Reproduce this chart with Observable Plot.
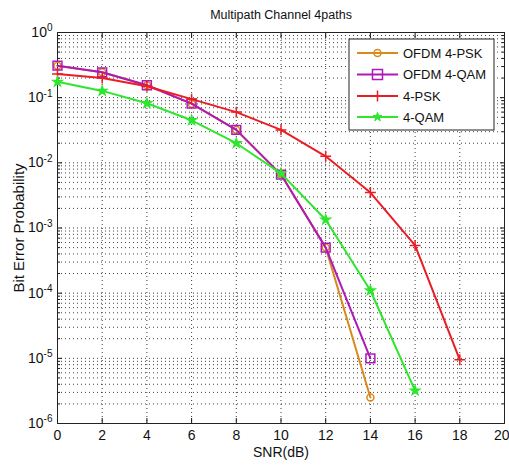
<!DOCTYPE html>
<html>
<head>
<meta charset="utf-8">
<script src="https://cdn.jsdelivr.net/npm/d3@7"></script>
<script src="https://cdn.jsdelivr.net/npm/@observablehq/plot@0.6"></script>
<style>
  html, body { margin: 0; padding: 0; background: #fff; }
  #chart { width: 509px; height: 465px; }
</style>
</head>
<body>
<div id="chart"></div>
<script>
const title = "Multipath Channel 4paths";
const xLabel = "SNR(dB)";
const yLabel = "Bit Error Probability";

const snr = [0, 2, 4, 6, 8, 10, 12, 14, 16, 18];
const ofdmPsk = [0.31, 0.245, 0.155, 0.081, 0.032, 0.0066, 0.0005, 0.0000025];
const ofdmQam = [0.31, 0.245, 0.155, 0.081, 0.032, 0.0066, 0.0005, 0.00001];
const psk = [0.23, 0.2, 0.15, 0.095, 0.06, 0.032, 0.0126, 0.0035, 0.00054, 0.0000095];
const qam = [0.175, 0.127, 0.082, 0.045, 0.02, 0.0069, 0.00134, 0.00011, 0.0000032];

const seriesNames = ["OFDM 4-PSK", "OFDM 4-QAM", "4-PSK", "4-QAM"];
const seriesColors = ["#d88a1c", "#b018b8", "#ea1c24", "#2ee62e"];
const seriesSymbols = ["circle", "square", "plus", "star"];
const seriesValues = [ofdmPsk, ofdmQam, psk, qam];

const xTicks = [0, 2, 4, 6, 8, 10, 12, 14, 16, 18, 20];
const yMajor = [1e-6, 1e-5, 1e-4, 1e-3, 1e-2, 1e-1, 1];
const yMinor = [];
for (let e = -6; e < 0; e++) for (let m = 2; m <= 9; m++) yMinor.push(m * Math.pow(10, e));
const yAll = yMajor.concat(yMinor);

const rows = [];
seriesValues.forEach((vals, i) => vals.forEach((v, j) => rows.push({s: seriesNames[i], x: snr[j], y: v, i})));

const gridStyle = {stroke: "#000", strokeOpacity: 0.75, strokeDasharray: "1,3", strokeWidth: 1};

const marks = [
  Plot.gridX(xTicks.slice(1, -1), gridStyle),
  Plot.gridY(yAll.filter(v => v > 1e-6 && v < 1), gridStyle),
  // tick labels
  Plot.axisX(xTicks, {tickSize: 0, tickPadding: 7, fontSize: 14, label: xLabel, labelAnchor: "center", labelArrow: "none", labelOffset: 33}),
  Plot.axisY(yMajor, {tickSize: 0, tickPadding: 5, fontSize: 14, tickFormat: v => "10^" + Math.round(Math.log10(v)), label: yLabel, labelAnchor: "center", labelArrow: "none", labelOffset: 44}),
  // inward ticks
  Plot.axisX(xTicks, {tickSize: -5, tickFormat: () => "", label: null}),
  Plot.axisX(xTicks, {anchor: "top", tickSize: -5, tickFormat: () => "", label: null}),
  Plot.axisY(yMajor, {tickSize: -5, tickFormat: () => "", label: null}),
  Plot.axisY(yMajor, {anchor: "right", tickSize: -5, tickFormat: () => "", label: null}),
  Plot.axisY(yMinor, {tickSize: -3, tickFormat: () => "", label: null}),
  Plot.axisY(yMinor, {anchor: "right", tickSize: -3, tickFormat: () => "", label: null}),
  Plot.frame({stroke: "#222", strokeWidth: 1})
];

seriesNames.forEach((name, i) => {
  const d = rows.filter(r => r.i === i);
  marks.push(Plot.line(d, {x: "x", y: "y", stroke: seriesColors[i], strokeWidth: 2}));
  const sym = seriesSymbols[i];
  if (sym === "star") {
    marks.push(Plot.dot(d, {x: "x", y: "y", symbol: "star", fill: seriesColors[i], stroke: seriesColors[i], r: 2.8}));
  } else if (sym === "plus") {
    marks.push(Plot.dot(d, {x: "x", y: "y", symbol: "plus", stroke: seriesColors[i], strokeWidth: 1.5, r: 3.6}));
  } else if (sym === "square") {
    marks.push(Plot.dot(d, {x: "x", y: "y", symbol: "square", stroke: seriesColors[i], fill: "none", strokeWidth: 1.5, r: 5}));
  } else {
    marks.push(Plot.dot(d, {x: "x", y: "y", symbol: "circle", stroke: seriesColors[i], fill: "none", strokeWidth: 1.5, r: 3.5}));
  }
});

marks.push(Plot.text([title], {frameAnchor: "top", dy: -19, fontSize: 12.5, fill: "#111"}));

const chart = Plot.plot({
  width: 509,
  height: 465,
  marginTop: 32,
  marginRight: 5,
  marginBottom: 42,
  marginLeft: 57,
  style: {fontFamily: "'Liberation Sans', Arial, sans-serif", fontSize: "13px", background: "#fff", color: "#111"},
  x: {domain: [0, 20]},
  y: {type: "log", domain: [1e-6, 1]},
  marks
});

document.getElementById("chart").appendChild(chart);

const svg = d3.select(chart);
svg.selectAll("text").each(function() {
  const t = d3.select(this);
  const s = t.text();
  if (/^10\^-?\d+$/.test(s)) {
    // superscript exponents on y tick labels
    const exp = s.split("^")[1];
    t.text("");
    t.append("tspan").text("10");
    t.append("tspan").attr("dy", "-0.55em").attr("font-size", "10px").text(exp);
  } else if (s === "20") {
    // keep the last x tick label inside the picture
    t.attr("text-anchor", "end").attr("dx", "5");
  } else if (s === yLabel) {
    t.attr("font-size", "15px");
  } else if (s === title) {
    t.attr("dy", "-3");
  }
});

// legend box
const lg = svg.append("g").attr("font-family", "'Liberation Sans', Arial, sans-serif").attr("font-size", 13).attr("text-anchor", "start");
lg.append("rect").attr("x", 349).attr("y", 39).attr("width", 145).attr("height", 91)
  .attr("fill", "#fff").attr("stroke", "#222").attr("stroke-width", 1);
const rowY = [53, 74.5, 96, 117];
seriesNames.forEach((name, i) => {
  const y = rowY[i], c = seriesColors[i];
  lg.append("line").attr("x1", 357).attr("x2", 398).attr("y1", y).attr("y2", y).attr("stroke", c).attr("stroke-width", 2);
  const cx = 377.5;
  const sym = seriesSymbols[i];
  if (sym === "circle") lg.append("circle").attr("cx", cx).attr("cy", y).attr("r", 3.5).attr("fill", "none").attr("stroke", c).attr("stroke-width", 1.5);
  else if (sym === "square") lg.append("rect").attr("x", cx - 5).attr("y", y - 5).attr("width", 10).attr("height", 10).attr("fill", "none").attr("stroke", c).attr("stroke-width", 1.5);
  else if (sym === "plus") lg.append("path").attr("d", d3.symbol(d3.symbolPlus, 40)()).attr("transform", `translate(${cx},${y})`).attr("stroke", c).attr("stroke-width", 1.5).attr("fill", "none");
  else lg.append("path").attr("d", d3.symbol(d3.symbolStar, 25)()).attr("transform", `translate(${cx},${y})`).attr("fill", c).attr("stroke", c);
  lg.append("text").attr("x", 403).attr("y", y).attr("dy", "0.36em").attr("fill", "#111").text(name);
});
</script>
</body>
</html>
